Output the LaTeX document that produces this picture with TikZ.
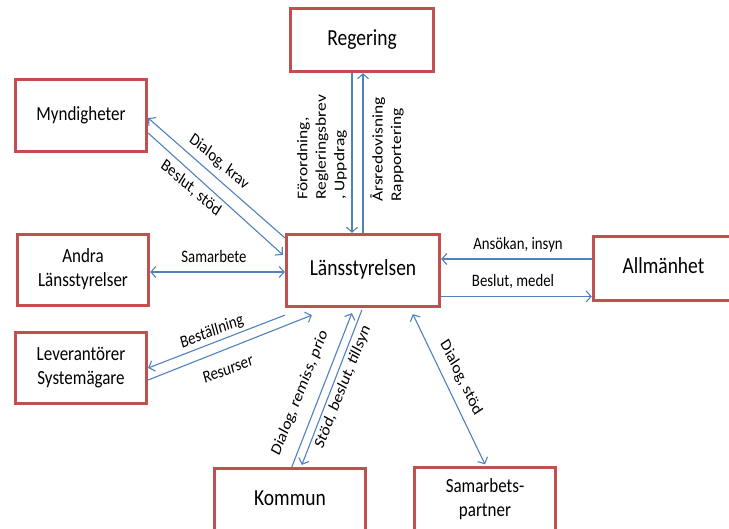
\documentclass[tikz,border=0pt]{standalone}
\usepackage{fontspec}
\setmainfont{Carlito}
\usetikzlibrary{arrows.meta,calc}
\definecolor{boxred}{RGB}{192,80,77}
\definecolor{linkblue}{RGB}{79,129,189}
% box captions are set slightly taller than wide
\newcommand\tallbox[1]{\scalebox{1}[1.18]{\begin{tabular}{@{}c@{}}#1\end{tabular}}}
\begin{document}
\begin{tikzpicture}[x=1pt,y=-1pt,
  box/.style={draw=boxred, line width=2.8pt, fill=white, inner sep=0pt},
  big/.style={font=\fontsize{19.5}{23}\selectfont},
  small/.style={font=\fontsize{17}{20.3}\selectfont},
  lbl/.style={font=\fontsize{14.8}{18.5}\selectfont, inner sep=0pt, yscale=1.18},
  tip/.tip={Straight Barb[length=5pt,width=11pt]},
  link/.style={draw=linkblue, line width=1.1pt, -tip},
  both/.style={draw=linkblue, line width=1.1pt, tip-tip}]
\useasboundingbox (0,0) rectangle (729,529);
\clip (0,0) rectangle (729,529);

% organisations
\node[box, big, minimum width=143.5pt, minimum height=63.5pt] (reg) at (362,40) {\tallbox{Regering}};
\node[box, small, minimum width=131.5pt, minimum height=72.5pt] (myn) at (81,115.5) {\tallbox{Myndigheter}};
\node[box, small, minimum width=131.5pt, minimum height=71.5pt] (andra) at (83,270) {\tallbox{Andra\\Länsstyrelser}};
\node[box, small, minimum width=131.5pt, minimum height=71.5pt] (lev) at (81,368) {\tallbox{Leverantörer\\Systemägare}};
\node[box, big, minimum width=153.5pt, minimum height=72.5pt] (lans) at (363,270.5) {\tallbox{Länsstyrelsen}};
\node[box, big, minimum width=140.5pt, minimum height=64.5pt] (allm) at (663.5,268.5) {\tallbox{Allmänhet}};
\node[box, big, minimum width=151.5pt, minimum height=63.5pt] (kom) at (290,500) {\tallbox{Kommun}};
\node[box, small, minimum width=141.5pt, minimum height=63.5pt] (sam) at (485,499.5) {\tallbox{Samarbets-\\partner}};

% Regering
\draw[link] ($(reg.south)+(-10,0)$) -- ($(lans.north)+(-11,0)$);
\draw[link] ($(lans.north)+(0,0)$) -- ($(reg.south)+(1,0)$);
\node[lbl, rotate=90, anchor=west, align=left] (lreg1) at (322,200) {Förordning,\\Regleringsbrev\\, Uppdrag};
\node[lbl, rotate=90, anchor=west, align=left] (lreg2) at (387,202) {Årsredovisning\\Rapportering};

% Myndigheter
\draw[link] ($(lans.north west)+(0,5)$) -- ($(myn.east)+(0,2.5)$);
\draw[link] ($(myn.east)+(0,17.5)$) -- ($(lans.north west)+(-2,22)$);
\node[lbl, rotate=-36.6] (lmyn1) at (219,162) {Dialog, krav};
\node[lbl, rotate=-36.6] (lmyn2) at (191,188) {Beslut, stöd};

% Andra Länsstyrelser
\draw[both] ($(andra.east)+(0,2)$) -- ($(lans.west)+(0,1.5)$);
\node[lbl] (land) at (214,257) {Samarbete};

% Leverantörer
\draw[link] ($(lans.south west)+(0,7)$) -- (lev.east);
\draw[link] ($(lev.east)+(0,12)$) -- ($(lans.south west)+(27,7)$);
\node[lbl, rotate=18.1] (llev1) at (212,332) {Beställning};
\node[lbl, rotate=18.1] (llev2) at (228,369) {Resurser};

% Allmänhet
\draw[link] ($(allm.west)+(0,-9.5)$) -- ($(lans.east)+(0,-11.5)$);
\draw[link] ($(lans.east)+(0,26)$) -- ($(allm.west)+(0,28)$);
\node[lbl] (lall1) at (518,245) {Ansökan, insyn};
\node[lbl] (lall2) at (513,282) {Beslut, medel};

% Kommun
\draw[link] ($(kom.north west)+(79,0)$) -- ($(lans.south west)+(67,5)$);
\draw[link] ($(lans.south west)+(77,2)$) -- ($(kom.north west)+(89,-2)$);
\node[lbl, rotate=65] (lkom1) at (300,393) {Dialog, remiss, prio};
\node[lbl, rotate=65] (lkom2) at (343,387) {Stöd, beslut, tillsyn};

% Samarbetspartner
\draw[both] ($(lans.south west)+(128,6)$) -- ($(sam.north)+(0,-2)$);
\node[lbl, rotate=-60.6] (lsam) at (461,378) {Dialog, stöd};
\end{tikzpicture}
\end{document}
